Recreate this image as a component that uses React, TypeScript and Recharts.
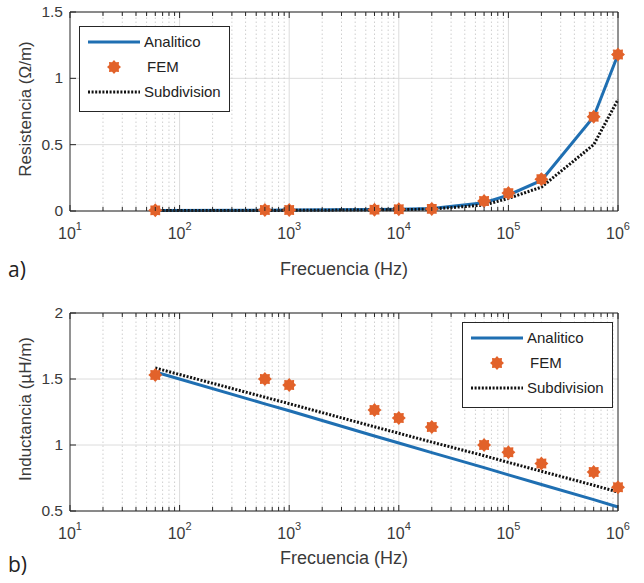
import React from 'react';
import { ComposedChart, Line, XAxis, YAxis, CartesianGrid, ReferenceLine } from 'recharts';

// frequencies (Hz) where every series is sampled
const freq = [60, 600, 1000, 6000, 10000, 20000, 60000, 100000, 200000, 600000, 1000000];

// a) resistencia (ohm/m)
const resAnalitico = [0.004, 0.006, 0.007, 0.011, 0.014, 0.019, 0.062, 0.12, 0.23, 0.71, 1.18];
const resFem = [0.005, 0.007, 0.008, 0.01, 0.013, 0.016, 0.075, 0.135, 0.24, 0.71, 1.18];
const resSubdivision = [0.003, 0.004, 0.005, 0.008, 0.01, 0.014, 0.045, 0.095, 0.18, 0.5, 0.84];

// b) inductancia (uH/m)
const indAnalitico = [1.553, 1.312, 1.259, 1.068, 1.015, 0.942, 0.829, 0.774, 0.701, 0.586, 0.53];
const indFem = [1.53, 1.5, 1.455, 1.265, 1.205, 1.136, 1.0, 0.945, 0.86, 0.795, 0.68];
const indSubdivision = [1.583, 1.362, 1.313, 1.138, 1.089, 1.022, 0.919, 0.868, 0.801, 0.695, 0.644];

const majorTicks = [10, 100, 1000, 10000, 100000, 1000000];
const minorTicks: number[] = [];
majorTicks.slice(0, -1).forEach((d) => {
  for (let k = 2; k <= 9; k++) minorTicks.push(d * k);
});
const allTicks = [...majorTicks, ...minorTicks].sort((a, b) => a - b);

const resTicks = [0, 0.5, 1, 1.5];
const indTicks = [0.5, 1, 1.5, 2];

const BLUE = '#1f6fb2';
const ORANGE = '#e2622a';
const FONT = "'Liberation Sans', Arial, sans-serif";
const TXT = '#3a3a3a';

const build = (a: number[], f: number[], s: number[]) =>
  freq.map((x, i) => ({ freq: x, analitico: a[i], fem: f[i], subdivision: s[i] }));

const Star = ({ cx, cy, size = 7 }: any) => {
  if (cx == null || cy == null) return null;
  const pts: string[] = [];
  for (let i = 0; i < 16; i++) {
    const rad = i % 2 === 0 ? size : size * 0.74;
    const a = (Math.PI * i) / 8;
    pts.push(`${cx + rad * Math.cos(a)},${cy + rad * Math.sin(a)}`);
  }
  return <polygon points={pts.join(' ')} fill={ORANGE} />;
};

const BottomTick = ({ x, y, payload }: any) => {
  const v = payload.value;
  const major = majorTicks.includes(v);
  return (
    <g>
      <line x1={x} y1={y} x2={x} y2={y - (major ? 6 : 4)} stroke="#262626" />
      {major && (
        <text x={x} y={y + 28} textAnchor="middle" fontSize={16} fill={TXT} fontFamily={FONT}>
          10
          <tspan dy={-9} fontSize={11}>{Math.round(Math.log10(v))}</tspan>
        </text>
      )}
    </g>
  );
};

const TopTick = ({ x, y, payload }: any) => {
  const major = majorTicks.includes(payload.value);
  return <line x1={x} y1={y} x2={x} y2={y + (major ? 6 : 4)} stroke="#262626" />;
};

const LeftTick = ({ x, y, payload }: any) => (
  <g>
    <line x1={x} y1={y} x2={x + 6} y2={y} stroke="#262626" />
    <text x={x - 7} y={y + 5} textAnchor="end" fontSize={15.5} fill={TXT} fontFamily={FONT}>
      {payload.value}
    </text>
  </g>
);

const RightTick = ({ x, y }: any) => <line x1={x} y1={y} x2={x - 6} y2={y} stroke="#262626" />;

const LegendBox = ({ left, top }: { left: number; top: number }) => {
  const rows = [
    { label: 'Analitico', kind: 'line' },
    { label: 'FEM', kind: 'star' },
    { label: 'Subdivision', kind: 'dot' },
  ];
  return (
    <svg width={151} height={86} style={{ position: 'absolute', left, top, display: 'block' }}>
      <rect x={0.5} y={0.5} width={150} height={85} fill="#fff" stroke="#262626" />
      {rows.map((r, i) => {
        const cy = 16 + i * 25;
        return (
          <g key={r.label}>
            {r.kind === 'line' && <line x1={9} x2={61} y1={cy} y2={cy} stroke={BLUE} strokeWidth={3} />}
            {r.kind === 'star' && <Star cx={35} cy={cy} />}
            {r.kind === 'dot' && (
              <line x1={9} x2={61} y1={cy} y2={cy} stroke="#111" strokeWidth={3} strokeDasharray="2 1.6" />
            )}
            <text x={r.kind === 'star' ? 68 : 65} y={cy + 5} fontSize={15} fill="#222" fontFamily={FONT}>
              {r.label}
            </text>
          </g>
        );
      })}
    </svg>
  );
};

interface PanelProps {
  data: any[];
  height: number;
  top: number;
  marginTop: number;
  marginBottom: number;
  domain: [number, number];
  yTicks: number[];
}

const Panel: React.FC<PanelProps> = ({ data, height, top, marginTop, marginBottom, domain, yTicks }) => (
  <div style={{ position: 'absolute', left: 0, top }}>
    <ComposedChart width={644} height={height} data={data} margin={{ top: marginTop, right: 25, bottom: marginBottom, left: 0 }}>
      <CartesianGrid vertical={false} stroke="#dcdcdc" yAxisId="l" />
      {minorTicks.map((v) => (
        <ReferenceLine key={`m${v}`} x={v} xAxisId="b" yAxisId="l" stroke="#cfcfcf" strokeDasharray="1.5 2.5" />
      ))}
      {majorTicks.slice(1, -1).map((v) => (
        <ReferenceLine key={`M${v}`} x={v} xAxisId="b" yAxisId="l" stroke="#dcdcdc" />
      ))}
      <XAxis
        xAxisId="b"
        dataKey="freq"
        type="number"
        scale="log"
        domain={[10, 1000000]}
        ticks={allTicks}
        interval={0}
        tickSize={0}
        tickMargin={0}
        height={30}
        tick={<BottomTick />}
        axisLine={{ stroke: '#262626' }}
      />
      <XAxis
        xAxisId="t"
        orientation="top"
        dataKey="freq"
        type="number"
        scale="log"
        domain={[10, 1000000]}
        ticks={allTicks}
        interval={0}
        tickSize={0}
        tickMargin={0}
        height={1}
        tick={<TopTick />}
        axisLine={{ stroke: '#262626' }}
      />
      <YAxis
        yAxisId="l"
        type="number"
        domain={domain}
        ticks={yTicks}
        interval={0}
        width={70}
        tickSize={0}
        tickMargin={0}
        tick={<LeftTick />}
        axisLine={{ stroke: '#262626' }}
      />
      <YAxis
        yAxisId="r"
        orientation="right"
        type="number"
        domain={domain}
        ticks={yTicks}
        interval={0}
        width={1}
        tickSize={0}
        tickMargin={0}
        tick={<RightTick />}
        axisLine={{ stroke: '#262626' }}
      />
      <Line xAxisId="b" yAxisId="l" type="linear" dataKey="analitico" stroke={BLUE} strokeWidth={3} dot={false} isAnimationActive={false} />
      <Line xAxisId="b" yAxisId="l" type="linear" dataKey="subdivision" stroke="#111" strokeWidth={3} strokeDasharray="2 1.6" dot={false} isAnimationActive={false} />
      <Line xAxisId="b" yAxisId="l" type="linear" dataKey="fem" stroke="none" dot={(p: any) => <Star key={p.index} cx={p.cx} cy={p.cy} />} activeDot={false} isAnimationActive={false} />
    </ComposedChart>
  </div>
);

const App: React.FC = () => {
  const resData = build(resAnalitico, resFem, resSubdivision);
  const indData = build(indAnalitico, indFem, indSubdivision);
  return (
    <div style={{ position: 'absolute', left: 0, top: 0, width: 644, height: 583, background: '#fff' }}>
      <Panel data={resData} height={290} top={0} marginTop={11} marginBottom={49} domain={[0, 1.5]} yTicks={resTicks} />
      <Panel data={indData} height={293} top={290} marginTop={22} marginBottom={42} domain={[0.5, 2]} yTicks={indTicks} />
      <LegendBox left={79} top={26} />
      <LegendBox left={462} top={322} />
      <svg width={644} height={583} style={{ position: 'absolute', left: 0, top: 0, pointerEvents: 'none' }}>
        <text x={344} y={275} textAnchor="middle" fontSize={18} fill={TXT} fontFamily={FONT}>Frecuencia (Hz)</text>
        <text x={344} y={564} textAnchor="middle" fontSize={18} fill={TXT} fontFamily={FONT}>Frecuencia (Hz)</text>
        <text transform="translate(31,109) rotate(-90)" textAnchor="middle" fontSize={17} fill={TXT} fontFamily={FONT}>Resistencia (Ω/m)</text>
        <text transform="translate(31,409) rotate(-90)" textAnchor="middle" fontSize={17} fill={TXT} fontFamily={FONT}>Inductancia (µH/m)</text>
        <text x={8} y={277} fontSize={21} fill="#222" fontFamily="'Open Sans', sans-serif">a)</text>
        <text x={8} y={572} fontSize={21} fill="#222" fontFamily="'Open Sans', sans-serif">b)</text>
      </svg>
    </div>
  );
};

export default App;
